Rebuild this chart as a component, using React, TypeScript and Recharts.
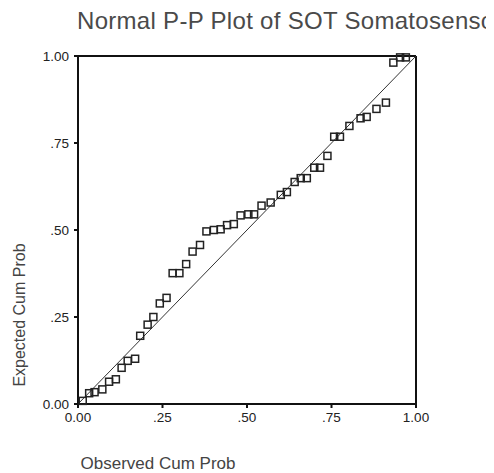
import { ScatterChart, Scatter, XAxis, YAxis, ReferenceLine } from 'recharts';

// observed cumulative probability (x) and expected cumulative probability (y)
const observed = [
  0.014, 0.033, 0.049, 0.072, 0.092, 0.112, 0.129, 0.147, 0.169, 0.184,
  0.206, 0.223, 0.242, 0.262, 0.28, 0.3, 0.32, 0.339, 0.361, 0.38,
  0.402, 0.422, 0.441, 0.461, 0.481, 0.504, 0.521, 0.543, 0.57, 0.6,
  0.618, 0.641, 0.659, 0.677, 0.699, 0.716, 0.738, 0.758, 0.775, 0.803,
  0.836, 0.854, 0.883, 0.911, 0.933, 0.953, 0.97,
];
const expected = [
  0.009, 0.031, 0.034, 0.042, 0.064, 0.071, 0.104, 0.124, 0.13, 0.196,
  0.228, 0.25, 0.289, 0.305, 0.376, 0.376, 0.402, 0.438, 0.457, 0.496,
  0.5, 0.502, 0.514, 0.517, 0.542, 0.545, 0.545, 0.57, 0.579, 0.601,
  0.609, 0.638, 0.649, 0.649, 0.679, 0.679, 0.713, 0.768, 0.768, 0.799,
  0.821, 0.825, 0.848, 0.866, 0.981, 0.996, 0.996,
];
const ticks = [0, 0.25, 0.5, 0.75, 1];
const tickLabels = ['0.00', '.25', '.50', '.75', '1.00'];

const points = observed.map((x, i) => ({ x, y: expected[i] }));

const font = 'Liberation Sans, Arial, sans-serif';
const fmt = (v: number) => tickLabels[ticks.indexOf(v)] ?? String(v);

const Square = (props: any) => {
  const { cx, cy } = props;
  return <rect x={cx - 3.5} y={cy - 3.5} width={7} height={7} fill="none" stroke="#222" strokeWidth={1.5} />;
};

const App = () => {
  return (
    <ScatterChart
      width={486}
      height={465}
      margin={{ top: 48, right: 78, bottom: 39, left: 0 }}
      style={{ background: '#fff' }}
    >
      <text x={69} y={21} fontFamily={font} fontSize={24} letterSpacing={0.3} fill="#4a4a4a">
        Normal P-P Plot of SOT Somatosensc
      </text>
      <text
        x={11}
        y={307}
        fontFamily={font}
        fontSize={16}
        fill="#444"
        textAnchor="middle"
        dominantBaseline="central"
        transform="rotate(-90, 11, 307)"
      >
        Expected Cum Prob
      </text>
      <text x={150} y={455} fontFamily={font} fontSize={17} fill="#444" textAnchor="middle" dominantBaseline="central">
        Observed Cum Prob
      </text>
      <XAxis
        type="number"
        dataKey="x"
        domain={[0, 1]}
        ticks={ticks}
        tickFormatter={fmt}
        height={30}
        axisLine={{ stroke: '#111', strokeWidth: 2 }}
        tickLine={{ stroke: '#111', strokeWidth: 2 }}
        tickSize={4}
        tickMargin={4}
        tick={{ fill: '#222', fontSize: 13.5, fontFamily: font }}
      />
      <YAxis
        type="number"
        dataKey="y"
        domain={[0, 1]}
        ticks={ticks}
        tickFormatter={fmt}
        width={70}
        axisLine={{ stroke: '#111', strokeWidth: 2 }}
        tickLine={{ stroke: '#111', strokeWidth: 2 }}
        tickSize={4}
        tickMargin={5}
        tick={{ fill: '#222', fontSize: 13.5, fontFamily: font }}
      />
      <ReferenceLine y={1} stroke="#111" strokeWidth={2} />
      <ReferenceLine x={1} stroke="#111" strokeWidth={2} />
      <ReferenceLine
        segment={[{ x: 0, y: 0 }, { x: 1, y: 1 }]}
        stroke="#333"
        strokeWidth={1}
      />
      <Scatter data={points} shape={Square} isAnimationActive={false} />
    </ScatterChart>
  );
};

export default App;
